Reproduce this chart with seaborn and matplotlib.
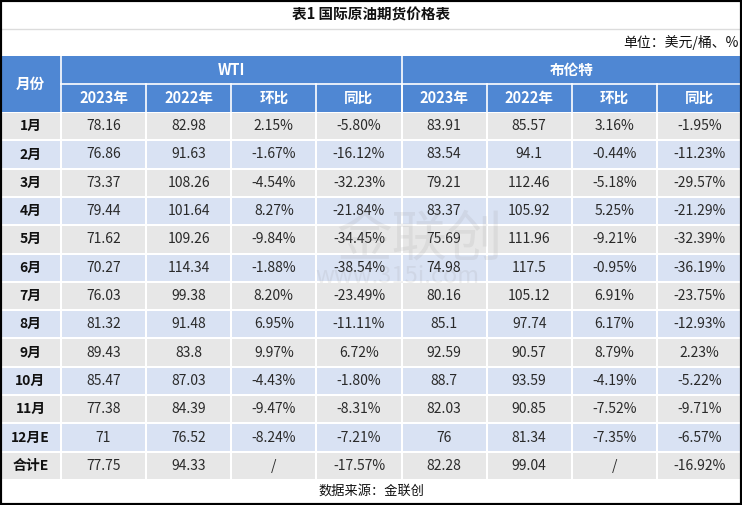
"""International crude oil futures price table."""

import matplotlib.pyplot as plt
import numpy as np
import pandas as pd
import seaborn as sns
from matplotlib.colors import ListedColormap
from matplotlib.patches import Rectangle

MONTHS = ["1月", "2月", "3月", "4月", "5月", "6月", "7月", "8月", "9月",
          "10月", "11月", "12月E", "合计E"]
WTI_2023 = [78.16, 76.86, 73.37, 79.44, 71.62, 70.27, 76.03, 81.32, 89.43,
            85.47, 77.38, 71, 77.75]
WTI_2022 = [82.98, 91.63, 108.26, 101.64, 109.26, 114.34, 99.38, 91.48, 83.8,
            87.03, 84.39, 76.52, 94.33]
WTI_MOM = [2.15, -1.67, -4.54, 8.27, -9.84, -1.88, 8.20, 6.95, 9.97,
           -4.43, -9.47, -8.24, None]
WTI_YOY = [-5.80, -16.12, -32.23, -21.84, -34.45, -38.54, -23.49, -11.11, 6.72,
           -1.80, -8.31, -7.21, -17.57]
BRENT_2023 = [83.91, 83.54, 79.21, 83.37, 75.69, 74.98, 80.16, 85.1, 92.59,
              88.7, 82.03, 76, 82.28]
BRENT_2022 = [85.57, 94.1, 112.46, 105.92, 111.96, 117.5, 105.12, 97.74, 90.57,
              93.59, 90.85, 81.34, 99.04]
BRENT_MOM = [3.16, -0.44, -5.18, 5.25, -9.21, -0.95, 6.91, 6.17, 8.79,
             -4.19, -7.52, -7.35, None]
BRENT_YOY = [-1.95, -11.23, -29.57, -21.29, -32.39, -36.19, -23.75, -12.93, 2.23,
             -5.22, -9.71, -6.57, -16.92]

GROUPS = ["WTI", "布伦特"]
SUB_HEADERS = ["2023年", "2022年", "环比", "同比"]
TITLE = "表1 国际原油期货价格表"
UNIT = "单位：美元/桶、%"
SOURCE = "数据来源：金联创"

W, H = 742, 505
HEADER_BLUE = "#4f87d3"
ROW_GRAY = "#e7e7e7"
ROW_BLUE = "#d9e2f3"
TEXT_COLOR = "#2a2a2a"

plt.rcParams["font.family"] = ["Noto Sans CJK SC", "DejaVu Sans"]


def fmt_price(v):
    return f"{v:g}"


def fmt_pct(v):
    return "/" if v is None else f"{v:.2f}%"


def px_axes(fig, x0, y0, x1, y1):
    return fig.add_axes([x0 / W, 1 - y1 / H, (x1 - x0) / W, (y1 - y0) / H])


fig = plt.figure(figsize=(W / 100, H / 100), dpi=100)
fig.patch.set_facecolor("white")

# background layer in pixel coordinates: title, unit, header, source
bg = fig.add_axes([0, 0, 1, 1])
bg.set_xlim(0, W)
bg.set_ylim(H, 0)
bg.axis("off")

bg.plot([0, W], [28.5, 28.5], color="#dcdcdc", lw=1)
bg.text(W / 2, 15, TITLE, ha="center", va="center", fontsize=10.5,
        fontweight="bold", color="#111111")
bg.text(W - 3, 42.5, UNIT, ha="right", va="center", fontsize=10, color="#111111")

header_top, header_mid, header_bot = 56, 84, 112
month_w = 61
col_w = (W - month_w) / 8
bg.add_patch(Rectangle((0, header_top), W, header_bot - header_top,
                       facecolor=HEADER_BLUE, edgecolor="none"))
bg.plot([month_w, month_w], [header_top, header_bot], color="white", lw=1.2)
bg.plot([month_w + 4 * col_w] * 2, [header_top, header_bot], color="white", lw=1.2)
bg.plot([month_w, W], [header_mid, header_mid], color="white", lw=1.2)
for i in range(1, 8):
    x = month_w + i * col_w
    bg.plot([x, x], [header_mid, header_bot], color="white", lw=1.2)

head_kw = dict(ha="center", va="center", color="white", fontsize=10.5,
               fontweight="bold")
bg.text(month_w / 2, (header_top + header_bot) / 2, "月份", **head_kw)
for g, name in enumerate(GROUPS):
    bg.text(month_w + (g * 4 + 2) * col_w, (header_top + header_mid) / 2, name,
            **head_kw)
    for j, sub in enumerate(SUB_HEADERS):
        bg.text(month_w + (g * 4 + j + 0.5) * col_w, (header_mid + header_bot) / 2,
                sub, **head_kw)

data_bot = 480
bg.text(W / 2, 491.5, SOURCE, ha="center", va="center", fontsize=9.5,
        color="#111111")

# table body
table = pd.DataFrame({
    "wti_2023": [fmt_price(v) for v in WTI_2023],
    "wti_2022": [fmt_price(v) for v in WTI_2022],
    "wti_mom": [fmt_pct(v) for v in WTI_MOM],
    "wti_yoy": [fmt_pct(v) for v in WTI_YOY],
    "brent_2023": [fmt_price(v) for v in BRENT_2023],
    "brent_2022": [fmt_price(v) for v in BRENT_2022],
    "brent_mom": [fmt_pct(v) for v in BRENT_MOM],
    "brent_yoy": [fmt_pct(v) for v in BRENT_YOY],
}, index=MONTHS)

stripe = np.array([i % 2 for i in range(len(MONTHS))], dtype=float)
cmap = ListedColormap([ROW_GRAY, ROW_BLUE])

ax_month = px_axes(fig, 0, header_bot, month_w, data_bot)
sns.heatmap(stripe[:, None], ax=ax_month, cmap=cmap, vmin=0, vmax=1, cbar=False,
            annot=np.array(MONTHS)[:, None], fmt="", linewidths=1.2,
            linecolor="white",
            annot_kws=dict(fontsize=10, fontweight="bold", color="#111111"))
ax_month.set_axis_off()

ax_body = px_axes(fig, month_w, header_bot, W, data_bot)
sns.heatmap(np.repeat(stripe[:, None], table.shape[1], axis=1), ax=ax_body,
            cmap=cmap, vmin=0, vmax=1, cbar=False, annot=table.values, fmt="",
            linewidths=1.2, linecolor="white",
            annot_kws=dict(fontsize=10, color=TEXT_COLOR))
ax_body.set_axis_off()

# faint watermark of the source
fig.text(0.565, 0.525, "金联创", fontsize=40, color="#8c8c8c", alpha=0.13,
         ha="center", va="center")
fig.text(0.535, 0.453, "www.315i.com", fontsize=17, color="#8c8c8c", alpha=0.13,
         ha="center", va="center")

fig.add_artist(Rectangle((0, 0), 1, 1, transform=fig.transFigure, fill=False,
                         edgecolor="black", lw=3))

fig.savefig("out.png", dpi=100)
